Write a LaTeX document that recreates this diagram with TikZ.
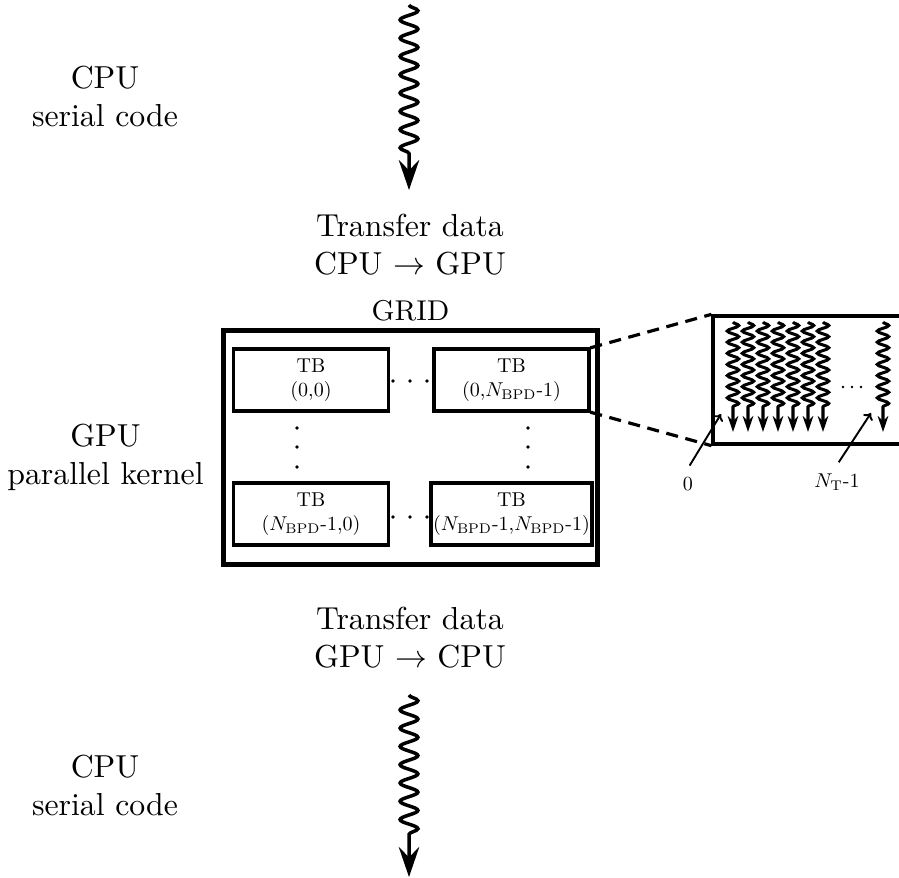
\documentclass[tikz,border=0pt]{standalone}
\usetikzlibrary{arrows.meta,decorations.pathmorphing,positioning}
\tikzset{
  sidetext/.style={align=center,inner sep=0pt},
  tbbox/.style={draw,line width=1.1pt,minimum width=77.6pt,minimum height=31pt,align=center,
    inner sep=1pt,scale=0.63,transform shape},
  gridbox/.style={draw,line width=1.6pt,minimum width=117.6pt,minimum height=73.6pt,inner sep=0pt},
  zoombox/.style={draw,line width=1pt,minimum width=59.1pt,minimum height=40.3pt,inner sep=0pt},
  flow/.style={line width=1.1pt,-{Stealth[length=9.4pt,width=6.4pt,inset=3.2pt]},decorate,
    decoration={snake,amplitude=2.8pt,segment length=5.75pt,post length=11pt}},
  thread/.style={line width=0.95pt,-{Stealth[length=5pt,width=3.3pt,inset=1.6pt]},decorate,
    decoration={snake,amplitude=1.8pt,segment length=3.5pt,post length=6.5pt}},
  zoomline/.style={line width=1pt,dash pattern=on 3.8pt off 2.4pt},
  pointer/.style={line width=0.6pt,-{To[length=2pt,width=3.5pt]},shorten <=1pt},
  tinytext/.style={inner sep=4pt,scale=0.63,transform shape}
}
\begin{document}
\begin{tikzpicture}[x=0.3145pt,y=-0.3145pt]
    \useasboundingbox (0,0) rectangle (899,877);
    \node[sidetext] (cputop) at (105,96.5) {CPU\\serial code};
    \node[sidetext] (gpu) at (105.5,457.5) {GPU\\parallel kernel};
    \node[sidetext] (cpubot) at (105,785.5) {CPU\\serial code};
    \coordinate (flowAin) at (409,5);
    \coordinate (flowAout) at (409,190);
    \draw[flow] (flowAin) -- (flowAout);
    \node[sidetext] (xferdown) at (410,245) {Transfer data\\CPU $\rightarrow$ GPU};
    \node[gridbox] (grid) at (410.5,447.5) {};
    \node[font=\small,inner sep=1pt,above=1pt of grid] (gridname) {GRID};
    \node[tbbox] (tb00) at (311,380) {TB\\(0,0)};
    \node[tbbox] (tb01) at (511.5,380) {TB\\(0,$N_{\mathrm{BPD}}$-1)};
    \node[tbbox] (tb10) at (311,514) {TB\\($N_{\mathrm{BPD}}$-1,0)};
    \node[tbbox] (tb11) at (511.5,514) {TB\\($N_{\mathrm{BPD}}$-1,$N_{\mathrm{BPD}}$-1)};
    \foreach \y in {381,517}
      \foreach \x in {393,410,427}
        \fill (\x,\y) circle (0.6pt);
    \foreach \x in {297,528}
      \foreach \y in {428,447,467}
        \fill (\x,\y) circle (0.6pt);
    \node[zoombox] (tbzoom) at (807,380) {};
    \draw[zoomline] (tb01.north east) -- (tbzoom.north west);
    \draw[zoomline] (tb01.south east) -- (tbzoom.south west);
    \foreach \x [count=\i] in {733,748,763,778,793,808,823,883} {
      \coordinate (thin\i) at (\x,322);
      \coordinate (thout\i) at (\x,432);
      \draw[thread] (thin\i) -- (thout\i);
    }
    \foreach \x in {843,852,861}
      \fill (\x,387) circle (0.45pt);
    \node[tinytext,anchor=base] (tfirst) at (688,490) {0};
    \node[tinytext,anchor=base] (tlast) at (837,487) {$N_{\mathrm{T}}$-1};
    \coordinate (tfirsttip) at (721,414);
    \coordinate (tlasttip) at (871,413);
    \draw[pointer] (tfirst.north) -- (tfirsttip);
    \draw[pointer] (tlast.north) -- (tlasttip);
    \node[sidetext] (xferup) at (410,638) {Transfer data\\GPU $\rightarrow$ CPU};
    \coordinate (flowBin) at (409,695);
    \coordinate (flowBout) at (409,877);
    \draw[flow] (flowBin) -- (flowBout);
  \end{tikzpicture}
\end{document}
